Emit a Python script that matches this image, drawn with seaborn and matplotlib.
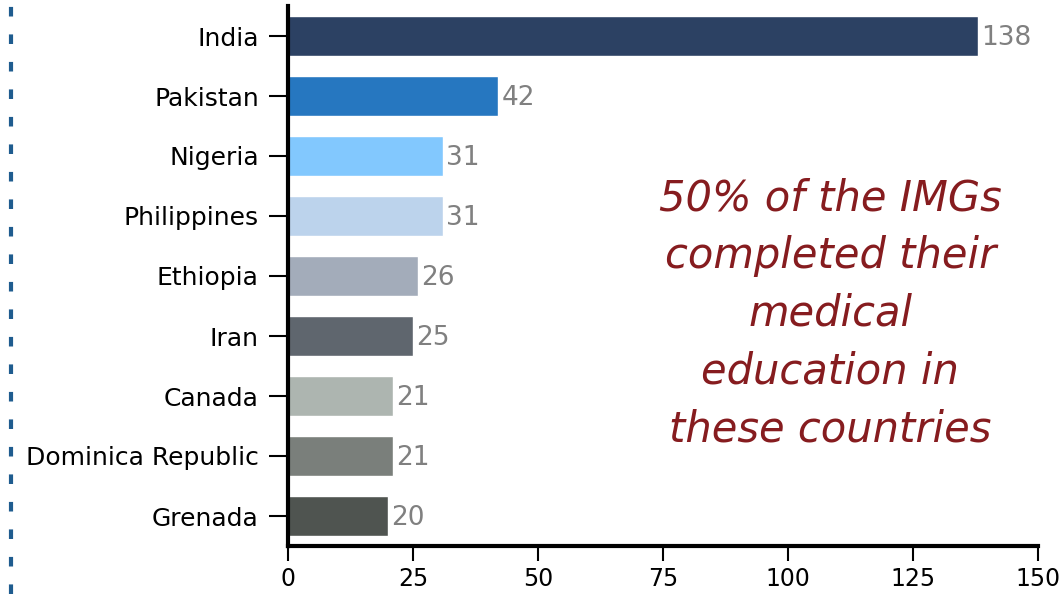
import pandas as pd
import numpy as np
import matplotlib.pyplot as plt
import seaborn as sns
from matplotlib.lines import Line2D

# data
countries = ['India', 'Pakistan', 'Nigeria', 'Philippines', 'Ethiopia',
             'Iran', 'Canada', 'Dominica Republic', 'Grenada']
img_counts = [138, 42, 31, 31, 26, 25, 21, 21, 20]
bar_colors = ['#2c4163', '#2677c0', '#82c8fe', '#bcd3ec', '#a3acba',
              '#5f666e', '#adb5b0', '#7a7f7b', '#4f5450']
x_ticks = [0, 25, 50, 75, 100, 125, 150]
note = "50% of the IMGs\ncompleted their\nmedical\neducation in\nthese countries"

sns.set_style('white')
plt.rcParams['font.family'] = ['DejaVu Sans']

df = pd.DataFrame({'country': countries, 'count': img_counts})

fig = plt.figure(figsize=(10.61, 5.94), dpi=100)
ax = fig.add_axes([288 / 1061, 48 / 594, 750 / 1061, 540 / 594])

sns.barplot(data=df, y='country', x='count', hue='country', palette=bar_colors,
            legend=False, width=0.667, saturation=1, ax=ax)

# value labels at bar ends
for i, v in enumerate(img_counts):
    ax.text(v + 0.7, i + 0.03, str(v), va='center', ha='left', fontsize=19, color='#808080')

ax.set_xlim(0, 150)
ax.set_ylim(8.5, -0.5)
ax.set_xticks(x_ticks)
ax.set_xlabel('')
ax.set_ylabel('')
ax.tick_params(axis='y', left=True, length=14, width=1.5, labelsize=18, pad=7,
               color='black', labelcolor='black')
ax.tick_params(axis='x', bottom=True, length=11, width=1.5, labelsize=17, pad=4,
               color='black', labelcolor='black')
for s in ['top', 'right']:
    ax.spines[s].set_visible(False)
for s in ['left', 'bottom']:
    ax.spines[s].set_linewidth(3)
    ax.spines[s].set_color('black')

ax.text(0.723, 0.43, note, transform=ax.transAxes, ha='center', va='center',
        fontsize=30, style='italic', color='#861c1f', linespacing=1.48)

# dotted divider on the left
fig.add_artist(Line2D([11 / 1061, 11 / 1061], [0, 1], transform=fig.transFigure,
                      color='#1f5c8f', linewidth=3, linestyle=(0, (2.3, 4.3))))

fig.savefig('out.png', dpi=100)
